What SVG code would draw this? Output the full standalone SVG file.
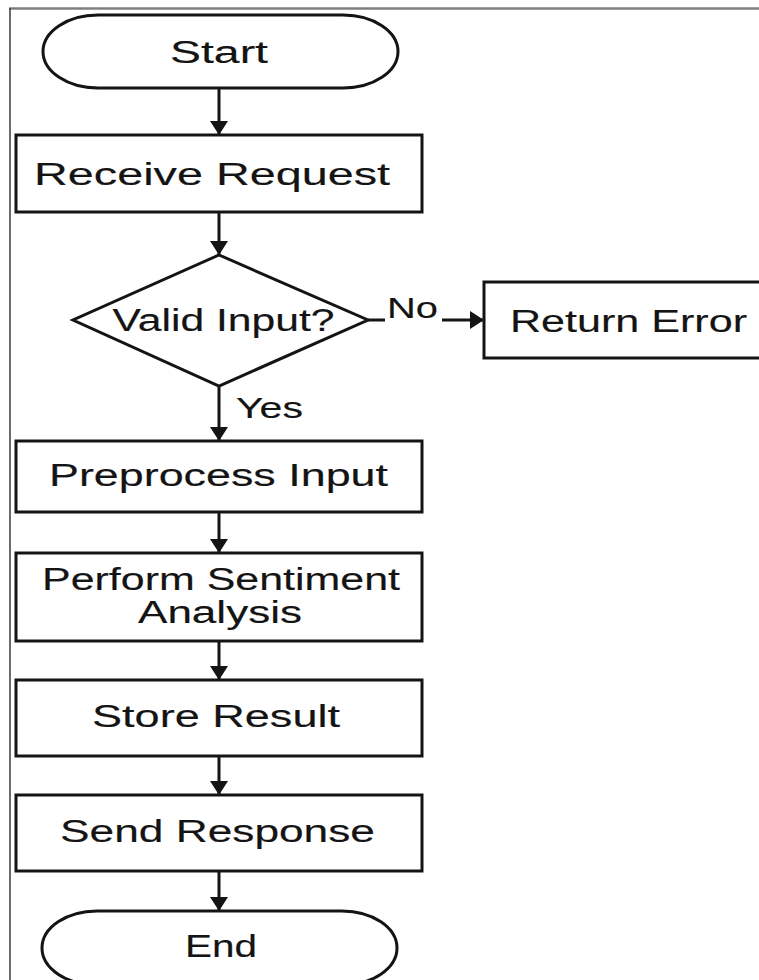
<svg xmlns="http://www.w3.org/2000/svg" width="759" height="980" viewBox="0 0 759 980">
<style>
.shape{fill:#fff;stroke:#141414;stroke-width:3}
.lbl{font-family:"Liberation Sans",Arial,sans-serif;fill:#141414;text-anchor:middle;stroke:#141414;stroke-width:0.15}
.edge{stroke:#141414;stroke-width:3;fill:none}
.edgelbl{font-family:"Liberation Sans",Arial,sans-serif;fill:#141414;stroke:#141414;stroke-width:0.15}
</style>
<defs>
<marker id="ah" markerUnits="userSpaceOnUse" markerWidth="20" markerHeight="20" refX="14" refY="9" orient="auto">
<path d="M0,0 L14,9 L0,18 Z" fill="#141414"/>
</marker>
</defs>
<rect x="0" y="0" width="759" height="980" fill="#fff"/>
<line x1="9" y1="8.5" x2="759" y2="8.5" stroke="#7f7f7f" stroke-width="2.5"/>
<line x1="10" y1="8" x2="10" y2="980" stroke="#3a3a3a" stroke-width="1.5"/>

<g id="connectors">
<line class="edge" x1="219" y1="88" x2="219" y2="135" marker-end="url(#ah)"/>
<line class="edge" x1="219" y1="212" x2="219" y2="255" marker-end="url(#ah)"/>
<line class="edge" x1="219" y1="386" x2="219" y2="441" marker-end="url(#ah)"/>
<line class="edge" x1="219" y1="512" x2="219" y2="553" marker-end="url(#ah)"/>
<line class="edge" x1="219" y1="641" x2="219" y2="680" marker-end="url(#ah)"/>
<line class="edge" x1="219" y1="756" x2="219" y2="795" marker-end="url(#ah)"/>
<line class="edge" x1="219" y1="871" x2="219" y2="911" marker-end="url(#ah)"/>
<line class="edge" x1="368" y1="320" x2="385" y2="320"/>
<line class="edge" x1="442" y1="320" x2="484" y2="320" marker-end="url(#ah)"/>
<text class="edgelbl" x="387" y="318" font-size="30" textLength="51" lengthAdjust="spacingAndGlyphs">No</text>
<text class="edgelbl" x="236" y="418" font-size="30" textLength="67" lengthAdjust="spacingAndGlyphs">Yes</text>
</g>

<g id="start">
<rect class="shape" x="43" y="15" width="355" height="73" rx="55" ry="36.5"/>
<text class="lbl" x="219" y="63" font-size="31" textLength="98" lengthAdjust="spacingAndGlyphs">Start</text>
</g>
<g id="receive">
<rect class="shape" x="16" y="135" width="406" height="77"/>
<text class="lbl" x="212" y="185" font-size="32" textLength="356" lengthAdjust="spacingAndGlyphs">Receive Request</text>
</g>
<g id="valid">
<polygon class="shape" points="219,255 368,320 219,386 73,320"/>
<text class="lbl" x="223.5" y="331" font-size="31" textLength="222" lengthAdjust="spacingAndGlyphs">Valid Input?</text>
</g>
<g id="error">
<rect class="shape" x="484" y="282" width="290" height="76"/>
<text class="lbl" x="628.5" y="332" font-size="32" textLength="237" lengthAdjust="spacingAndGlyphs">Return Error</text>
</g>
<g id="preprocess">
<rect class="shape" x="16" y="441" width="406" height="71"/>
<text class="lbl" x="218.5" y="486" font-size="31" textLength="339" lengthAdjust="spacingAndGlyphs">Preprocess Input</text>
</g>
<g id="sentiment">
<rect class="shape" x="16" y="553" width="406" height="88"/>
<text class="lbl" x="221" y="590" font-size="31" textLength="358" lengthAdjust="spacingAndGlyphs">Perform Sentiment</text>
<text class="lbl" x="220" y="623" font-size="31" textLength="164" lengthAdjust="spacingAndGlyphs">Analysis</text>
</g>
<g id="store">
<rect class="shape" x="16" y="680" width="406" height="76"/>
<text class="lbl" x="216" y="727" font-size="31" textLength="248" lengthAdjust="spacingAndGlyphs">Store Result</text>
</g>
<g id="send">
<rect class="shape" x="16" y="795" width="406" height="76"/>
<text class="lbl" x="217.5" y="842" font-size="31" textLength="315" lengthAdjust="spacingAndGlyphs">Send Response</text>
</g>
<g id="end">
<rect class="shape" x="42" y="911" width="355" height="74" rx="55" ry="37"/>
<text class="lbl" x="221" y="957" font-size="31" textLength="72" lengthAdjust="spacingAndGlyphs">End</text>
</g>
</svg>
